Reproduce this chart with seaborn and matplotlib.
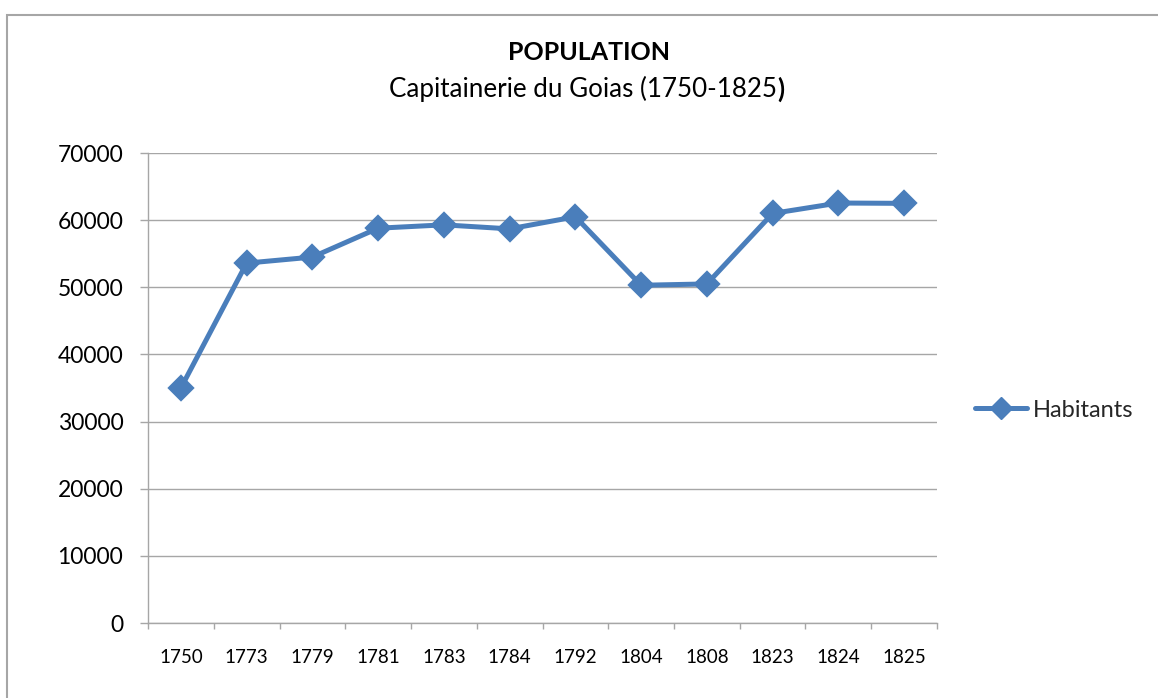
import matplotlib
matplotlib.use("Agg")
import matplotlib.pyplot as plt
import seaborn as sns
import pandas as pd
from matplotlib.patches import Rectangle
from matplotlib.lines import Line2D

years = ["1750", "1773", "1779", "1781", "1783", "1784", "1792", "1804", "1808", "1823", "1824", "1825"]
habitants = [35000, 53600, 54500, 58800, 59300, 58700, 60500, 50300, 50500, 61000, 62550, 62500]
y_ticks = [0, 10000, 20000, 30000, 40000, 50000, 60000, 70000]

sns.set_theme(style="white")
plt.rcParams['font.family'] = ['Lato', 'DejaVu Sans']

W, H = 1158, 698
fig = plt.figure(figsize=(W / 100, H / 100), dpi=100)
ax = fig.add_axes([148 / W, 1 - 623 / H, (937 - 148) / W, (623 - 153) / H])

color = "#4A7EBB"
grid = "#A6A6A6"
lw = 3.6
ms = 11
df = pd.DataFrame({"year": years, "Habitants": habitants})
sns.pointplot(data=df, x="year", y="Habitants", ax=ax, color=color, markers="D",
              markersize=ms, linewidth=lw, errorbar=None)

ax.set_xlim(-0.5, len(years) - 0.5)
ax.set_ylim(0, 70000)
ax.set_yticks(y_ticks)
ax.set_yticklabels([str(v) for v in y_ticks], fontsize=16.5, color="black")
ax.set_xticks(range(len(years)))
ax.set_xticklabels(years, fontsize=13.5, color="black")
ax.set_xticks([i - 0.5 for i in range(len(years) + 1)], minor=True)
ax.tick_params(axis="x", which="major", length=0, pad=19)
ax.tick_params(axis="x", which="minor", length=4, width=1, color=grid, direction="out", bottom=True)
ax.tick_params(axis="y", which="major", length=5.8, width=1, color=grid, direction="out", left=True, pad=12)
ax.set_xlabel("")
ax.set_ylabel("")
ax.yaxis.grid(True, color=grid, linewidth=1)
ax.set_axisbelow(True)
for s in ["top", "right"]:
    ax.spines[s].set_visible(False)
for s in ["left", "bottom"]:
    ax.spines[s].set_color(grid)
    ax.spines[s].set_linewidth(1)

# Titles
cx = 589 / W
fig.text(cx, 1 - 53 / H, "POPULATION", ha="center", va="center", fontsize=18, fontweight="bold", color="black")
t = fig.text(cx - 6 / W, 1 - 89 / H, "Capitainerie du Goias (1750-1825", ha="center", va="center",
             fontsize=18.7, color="black")
ax.annotate(")", xy=(1, 0), xycoords=t, xytext=(0, 0), textcoords="offset points",
            ha="left", va="bottom", fontsize=18.7, fontweight="bold", color="black", annotation_clip=False)

# Legend
handle = Line2D([], [], color=color, linewidth=lw, marker="D", markersize=ms)
fig.legend([handle], ["Habitants"], loc="center left", bbox_to_anchor=(963 / W, 1 - 410 / H),
           frameon=False, fontsize=17, handlelength=2.2, handletextpad=0.25, borderpad=0)

# Outer border
fig.patches.append(Rectangle((7 / W, -0.1), 1.2, 1 - 15 / H + 0.1, transform=fig.transFigure,
                             fill=False, edgecolor="#A6A6A6", linewidth=1.5))

fig.savefig("out.png", dpi=100)
